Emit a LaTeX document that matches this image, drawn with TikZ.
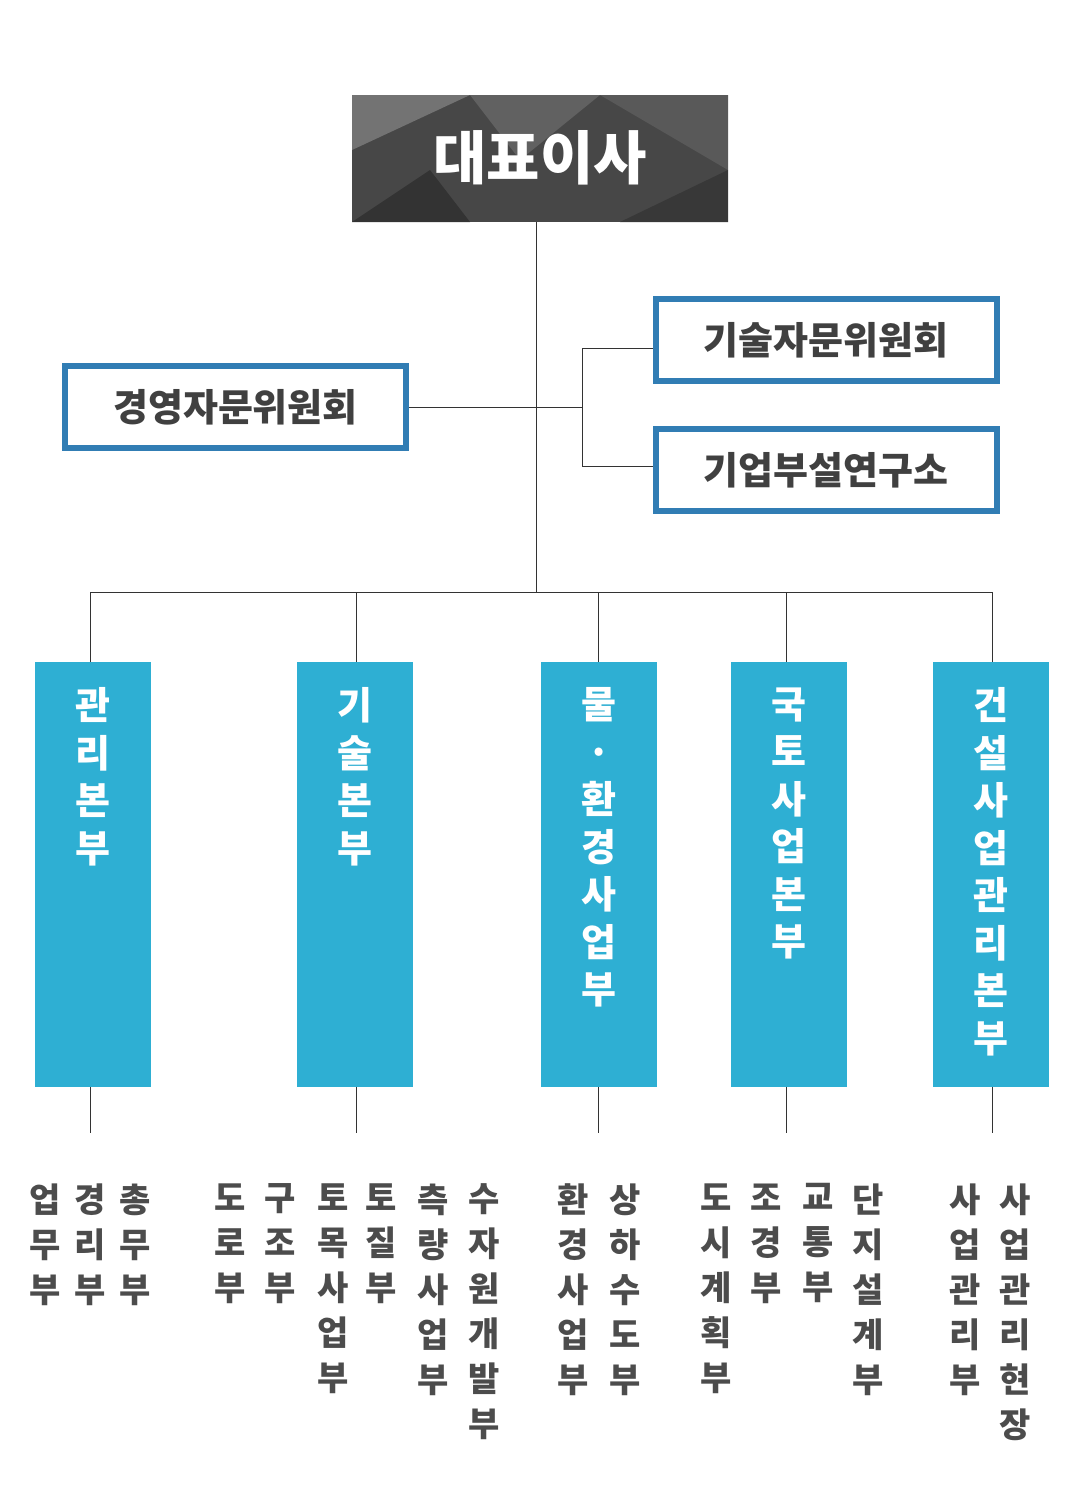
\documentclass[tikz,border=0pt]{standalone}
\usepackage{fontspec}
\setmainfont{Noto Sans CJK KR}
\begin{document}
\begin{tikzpicture}[x=1pt,y=-1pt,
  ln/.style={draw=black!80,line width=1pt},
  cbox/.style={draw=cyan!70!blue!80!black,line width=6pt,fill=white,minimum width=341pt,minimum height=82pt,font=\fontsize{38}{40}\selectfont\bfseries,text=black!75},
  col/.style={fill=colc,minimum width=116pt,minimum height=425pt,anchor=north,inner sep=0pt},
  ctext/.style={anchor=north,align=center,text=white,font=\fontsize{38}{47.5}\selectfont\bfseries},
  btext/.style={anchor=north,align=center,text=black!70,font=\fontsize{34}{45}\selectfont\bfseries}]
\definecolor{colc}{HTML}{2EAFD3}
\colorlet{cyan!70!blue!80!black}{colc}
\useasboundingbox (0,0) rectangle (1080,1500);
% CEO box
\fill[black!72] (352,95) rectangle (728,222);
\fill[black!55] (352,95) -- (470,95) -- (352,150) -- cycle;
\fill[black!62] (470,95) -- (600,95) -- (520,160) -- cycle;
\fill[black!80] (352,222) -- (430,170) -- (470,222) -- cycle;
\fill[black!65] (600,95) -- (728,95) -- (728,170) -- cycle;
\fill[black!78] (620,222) -- (728,170) -- (728,222) -- cycle;
\node (ceo) at (540,158) {\fontsize{58}{60}\selectfont\bfseries\color{white}대표이사};
\coordinate (ceob) at (536,222);
% committees
\node[cbox] (mgmt) at (235.5,407) {경영자문위원회};
\node[cbox] (tech) at (826,340) {기술자문위원회};
\node[cbox] (lab) at (826,470) {기업부설연구소};
\coordinate (hub) at (536,592);
\coordinate (mj) at (536,407);
\coordinate (br) at (582,407);
\coordinate (brt) at (582,348);
\coordinate (brb) at (582,466);
\draw[ln] (ceob) -- (hub);
\draw[ln] (mgmt.east) -- (br);
\draw[ln] (brt) -- (brb);
\draw[ln] (brt) -- (tech.west|-brt);
\draw[ln] (brb) -- (lab.west|-brb);
% bottom bar
\coordinate (h1) at (90,592); \coordinate (h5) at (993,592);
\draw[ln] (h1) -- (h5);
\foreach \n/\x/\t in {c1/93/{관\\리\\본\\부},c2/355/{기\\술\\본\\부},c3/599/{물\\·\\환\\경\\사\\업\\부},c4/789/{국\\토\\사\\업\\본\\부},c5/991/{건\\설\\사\\업\\관\\리\\본\\부}}{
  \node[col] (\n) at (\x,662) {};
  \node[ctext] at (\x,684) {\t};
}
\foreach \n/\x in {c1/90,c2/356,c3/598,c4/786,c5/992}{
  \draw[ln] (\x,592) -- (\x,662);
  \draw[ln] (\x,1087) -- (\x,1133);
}
\foreach \x/\t in {45/{업\\무\\부},90/{경\\리\\부},135/{총\\무\\부},230/{도\\로\\부},280/{구\\조\\부},333/{토\\목\\사\\업\\부},381/{토\\질\\부},433/{측\\량\\사\\업\\부},484/{수\\자\\원\\개\\발\\부},573/{환\\경\\사\\업\\부},625/{상\\하\\수\\도\\부},716/{도\\시\\계\\획\\부},766/{조\\경\\부},818/{교\\통\\부},868/{단\\지\\설\\계\\부},965/{사\\업\\관\\리\\부},1015/{사\\업\\관\\리\\현\\장}}{
  \node[btext] at (\x,1180) {\t};
}
\end{tikzpicture}
\end{document}
